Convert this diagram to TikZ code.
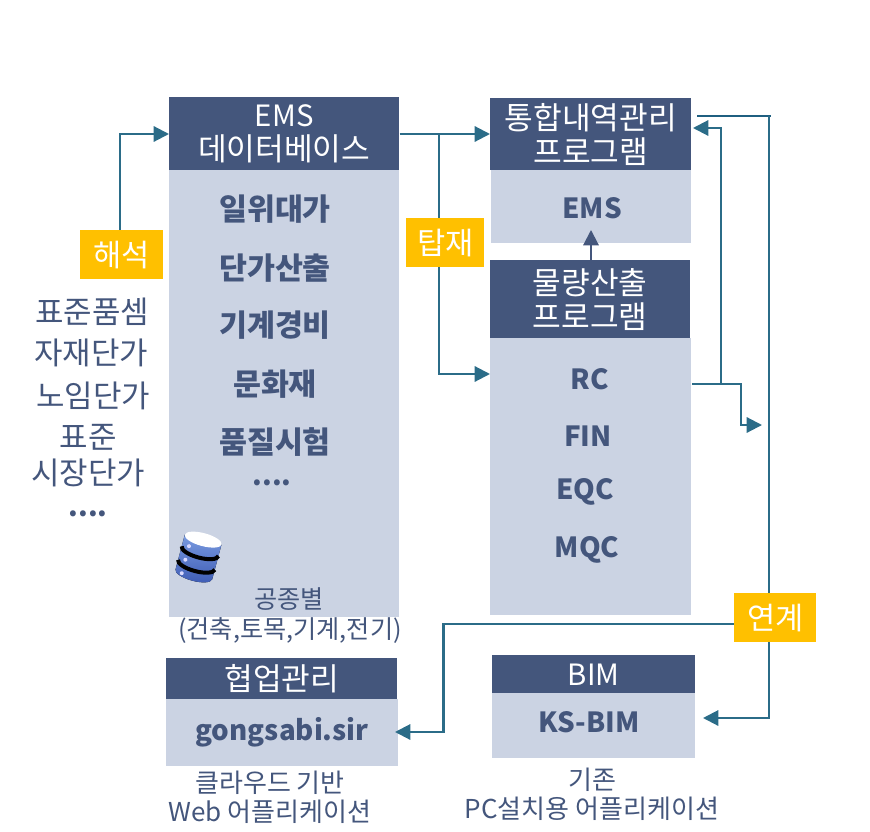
\documentclass[tikz,border=0pt]{standalone}
\usepackage{fontspec}
\setmainfont{Noto Sans CJK KR}
\usetikzlibrary{arrows.meta}
\definecolor{hdr}{HTML}{44567C}
\definecolor{bodyc}{HTML}{CBD3E3}
\definecolor{tagc}{HTML}{FFC000}
\definecolor{linkc}{HTML}{2B6C88}
\definecolor{linkd}{HTML}{1F5F80}
\definecolor{dbtop}{HTML}{7A9BE0}
\definecolor{dbbot}{HTML}{3E5CB5}
\newcommand{\lat}[1]{{\fontsize{22}{25.5}\selectfont #1}}
\tikzset{
 x=0.75pt,y=-0.75pt,
 hdrbox/.style={fill=hdr,text=white,inner sep=0pt,align=center,font=\fontsize{23.4}{25.5}\selectfont},
 bodybox/.style={fill=bodyc,inner sep=0pt},
 tagbox/.style={fill=tagc,text=white,inner sep=0pt,font=\fontsize{23}{25}\selectfont},
 bold/.style={text=hdr,inner sep=0pt,font=\fontsize{20.8}{24}\selectfont\bfseries},
 boldk/.style={text=hdr,inner sep=0pt,font=\fontsize{22.8}{24}\selectfont\bfseries},
 plain/.style={text=hdr,inner sep=0pt,font=\fontsize{23.2}{25}\selectfont},
 small/.style={text=hdr,inner sep=0pt,font=\fontsize{19.5}{22}\selectfont},
 smaller/.style={text=hdr,inner sep=0pt,font=\fontsize{18.9}{22}\selectfont},
 link/.style={draw=linkc,line width=1.6pt,-{Triangle[length=11.5pt,width=11.5pt]}},
}
\begin{document}
\begin{tikzpicture}
\useasboundingbox (0,0) rectangle (870,831);
% boxes
\node[bodybox,minimum width=172.5pt,minimum height=335.25pt,anchor=north west] (emsbody) at (169,170) {};
\node[hdrbox,minimum width=172.5pt,minimum height=54.75pt,anchor=north west] (emshead) at (169,97) {\lat{EMS}\\데이터베이스};
\node[bodybox,minimum width=150pt,minimum height=54.75pt,anchor=north west] (intbody) at (491,170) {};
\node[hdrbox,minimum width=150.75pt,minimum height=54pt,anchor=north west] (inthead) at (490,98) {통합내역관리\\프로그램};
\node[bodybox,minimum width=150.75pt,minimum height=207.75pt,anchor=north west] (qtybody) at (490,338) {};
\node[hdrbox,minimum width=150pt,minimum height=58.5pt,anchor=north west] (qtyhead) at (490,260) {물량산출\\프로그램};
\node[bodybox,minimum width=174pt,minimum height=50.25pt,anchor=north west] (webbody) at (166,699) {};
\node[hdrbox,minimum width=173.25pt,minimum height=30.75pt,anchor=north west] (webhead) at (166,658) {협업관리};
\node[bodybox,minimum width=152.25pt,minimum height=48.75pt,anchor=north west] (bimbody) at (492,693) {};
\node[hdrbox,minimum width=152.25pt,minimum height=28.5pt,anchor=north west] (bimhead) at (492,655) {\lat{BIM}};
% labels
\node[boldk] (l1) at (275,209) {일위대가};
\node[boldk] (l2) at (275,268) {단가산출};
\node[boldk] (l3) at (275,325) {기계경비};
\node[boldk] (l4) at (275,384) {문화재};
\node[boldk] (l5) at (275,442) {품질시험};
\node[bold] (l6) at (272,483) {....};
\node[bold] (e1) at (592,208) {EMS};
\node[bold] (r1) at (590,379) {RC};
\node[bold] (r2) at (588,436) {FIN};
\node[bold] (r3) at (585,492) {EQC};
\node[bold] (r4) at (587,550) {MQC};
\node[bold] (g1) at (282,732) {gongsabi.sir};
\node[bold] (k1) at (589,722) {KS-BIM};
\node[plain] (a1) at (92,312) {표준품셈};
\node[plain] (a2) at (91,353) {자재단가};
\node[plain] (a3) at (93,396) {노임단가};
\node[plain] (a4) at (88,437) {표준};
\node[plain] (a5) at (88,473) {시장단가};
\node[bold] (a6) at (88,514) {....};
\node[smaller] (c1) at (289,599) {공종별};
\node[smaller] (c2) at (290,630) {(건축,토목,기계,전기)};
\node[small] (w1) at (270,783) {클라우드 기반};
\node[small] (w2) at (270,812) {Web 어플리케이션};
\node[small] (b1) at (592,780) {기존};
\node[small] (b2) at (592,809) {PC설치용 어플리케이션};
% database icon
\begin{scope}[shift={(198.5,557)},rotate=-15]
 \fill[top color=dbtop,bottom color=dbbot] (-19,-18) -- (-19,18) arc[start angle=180,end angle=360,x radius=19,y radius=-6.5] -- (19,-18) -- cycle;
 \foreach \yy in {-6,8}{
  \draw[black,line width=3pt] (-19,\yy) arc[start angle=180,end angle=360,x radius=19,y radius=-6.5];
  \fill[white!85!blue] (-12,\yy-2) circle[radius=2];
 }
 \fill[white!85!blue] (-12,20) circle[radius=2];
 \fill[white] (0,-18) ellipse[x radius=19,y radius=6.5];
\end{scope}
% connectors
\coordinate (topend) at (697,116);
\coordinate (topcor) at (771,116);
\coordinate (rcout) at (692,384);
\coordinate (busA) at (721,384);
\coordinate (busB) at (741,384);
\coordinate (sideend) at (762,425);
\coordinate (branch) at (439,134);
\coordinate (intin) at (693,128);
\coordinate (emstip) at (591,230);
\coordinate (qtyup) at (591,260);
\coordinate (bimtip) at (703,718);
\coordinate (webtip) at (395,732);
\coordinate (tag1up) at (120,230);
\coordinate (tag3out) at (734,624);
\coordinate (rightv) at (769,116);
\draw[link] (tag1up) |- (emshead.west |- 0,134);
\draw[link] (emshead.east |- branch) -- (inthead.west |- branch);
\draw[link] (branch) |- (qtybody.west |- 0,374);
\draw[link,draw=hdr] (qtyup) -- (emstip);
\draw[link] (rcout) -- (busA) |- (intin);
\draw[link] (busA) -- (busB) |- (sideend);
\draw[draw=linkd,line width=2pt] (topend) -- (topcor);
\draw[link] (rightv) |- (bimtip);
\draw[link] (tag3out) -- (443.5,624) |- (webtip);
% tags
\node[tagbox,minimum width=62.25pt,minimum height=36.75pt,anchor=north west] (tag1) at (80,230) {해석};
\node[tagbox,minimum width=58.5pt,minimum height=36.75pt,anchor=north west] (tag2) at (406,218) {탑재};
\node[tagbox,minimum width=61.5pt,minimum height=36.75pt,anchor=north west] (tag3) at (734,593) {연계};
\end{tikzpicture}
\end{document}
